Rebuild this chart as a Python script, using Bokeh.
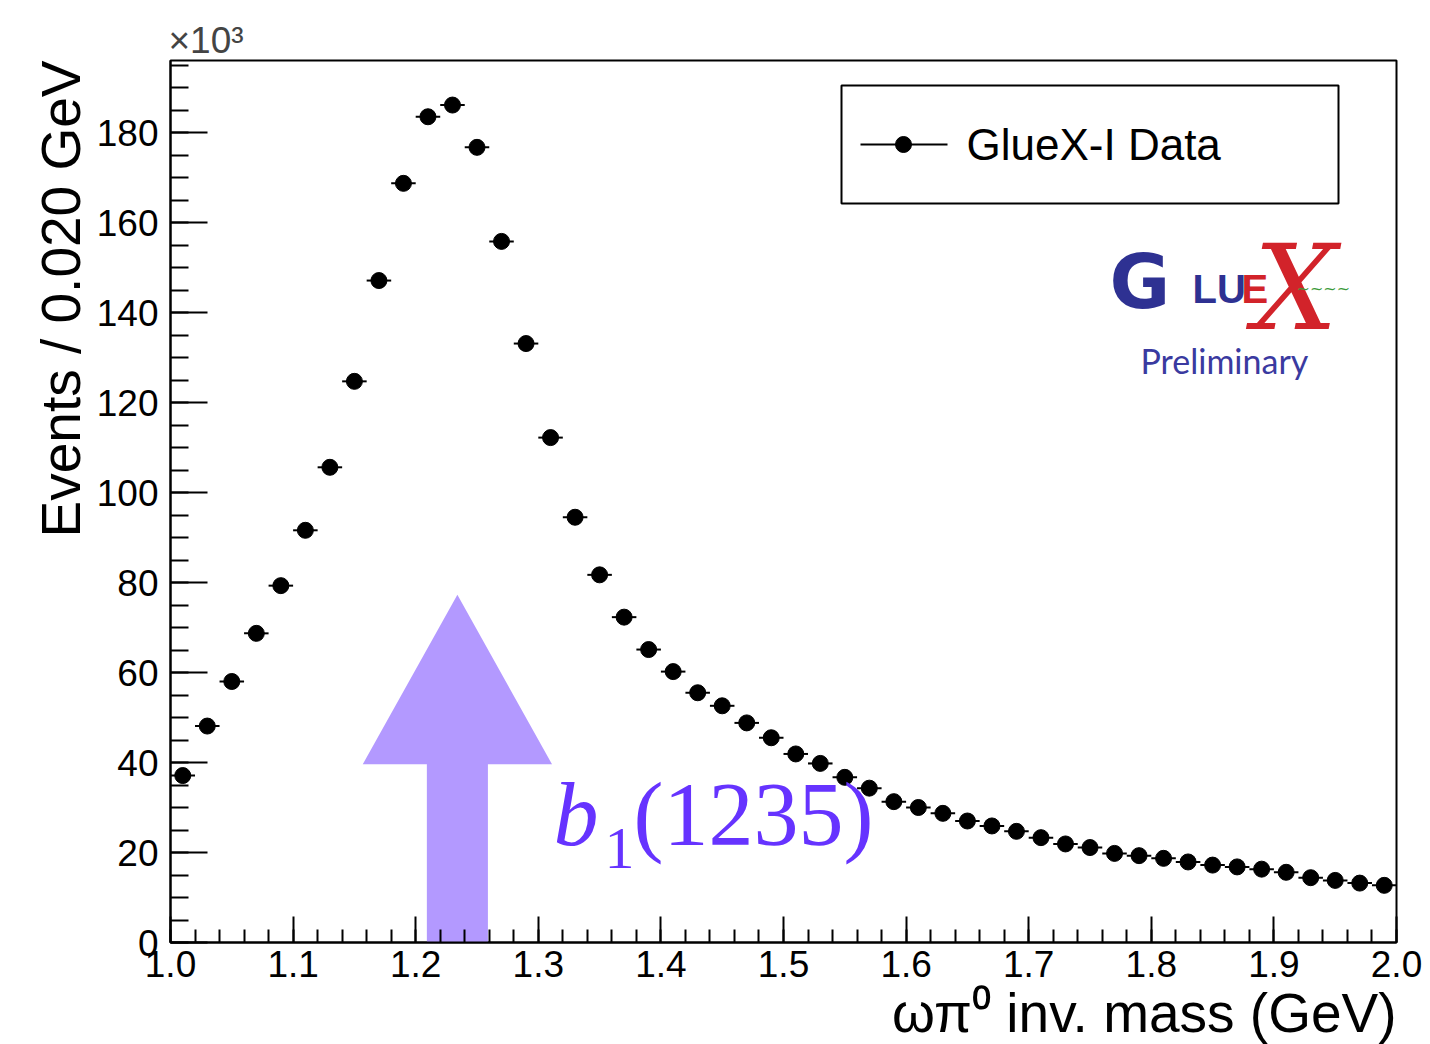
import numpy as np
from bokeh.plotting import figure
from bokeh.models import Range1d, FixedTicker, PrintfTickFormatter, Label, BoxAnnotation, Title
from bokeh.embed import file_html
from bokeh.resources import INLINE

# ---------------- data (values in units of 10^3 events per 0.020 GeV bin) ----------------
mass_centers = [1.01, 1.03, 1.05, 1.07, 1.09, 1.11, 1.13, 1.15, 1.17, 1.19,
                1.21, 1.23, 1.25, 1.27, 1.29, 1.31, 1.33, 1.35, 1.37, 1.39,
                1.41, 1.43, 1.45, 1.47, 1.49, 1.51, 1.53, 1.55, 1.57, 1.59,
                1.61, 1.63, 1.65, 1.67, 1.69, 1.71, 1.73, 1.75, 1.77, 1.79,
                1.81, 1.83, 1.85, 1.87, 1.89, 1.91, 1.93, 1.95, 1.97, 1.99]
events_k = [37.1, 48.1, 58.0, 68.7, 79.3, 91.6, 105.6, 124.7, 147.1, 168.7,
            183.5, 186.1, 176.7, 155.8, 133.1, 112.2, 94.5, 81.7, 72.3, 65.1,
            60.2, 55.5, 52.6, 48.8, 45.5, 41.9, 39.8, 36.7, 34.3, 31.3,
            30.0, 28.7, 27.0, 25.9, 24.7, 23.3, 21.9, 21.1, 19.8, 19.3,
            18.7, 17.9, 17.2, 16.8, 16.3, 15.6, 14.4, 13.8, 13.2, 12.7]
bin_half_width = 0.01

x_major_ticks = [1.0, 1.1, 1.2, 1.3, 1.4, 1.5, 1.6, 1.7, 1.8, 1.9, 2.0]
y_major_ticks = [0, 20, 40, 60, 80, 100, 120, 140, 160, 180]
legend_label = "GlueX-I Data"
x_title = "ωπ⁰ inv. mass (GeV)"
y_title = "Events / 0.020 GeV"
y_multiplier = "×10³"
resonance_mass = 1.234          # b1(1235) marker position (GeV)

# ---------------- layout ----------------
X_MIN, X_MAX = 1.0, 2.0
Y_MIN, Y_MAX = 0.0, 196.0
FRAME_L, FRAME_T, FRAME_W, FRAME_H = 170, 60, 1226, 882

def fx(px):
    return X_MIN + (px - FRAME_L) * (X_MAX - X_MIN) / FRAME_W

def fy(py):
    return Y_MIN + (FRAME_T + FRAME_H - py) * (Y_MAX - Y_MIN) / FRAME_H

SANS = "Liberation Sans"
SERIF = "Liberation Serif"

p = figure(width=1430, height=1044,
           x_range=Range1d(X_MIN, X_MAX), y_range=Range1d(Y_MIN, Y_MAX),
           output_backend="svg", toolbar_location=None, title=None,
           min_border_left=FRAME_L, min_border_right=1430 - FRAME_L - FRAME_W,
           min_border_top=FRAME_T, min_border_bottom=1044 - FRAME_T - FRAME_H)
p.background_fill_color = "white"
p.border_fill_color = "white"
p.outline_line_color = "black"
p.outline_line_width = 2
p.xgrid.visible = False
p.ygrid.visible = False

# axes (ROOT style, ticks inside)
x_minor = [round(X_MIN + 0.02 * i, 2) for i in range(51)]
y_minor = [5 * i for i in range(40)]
p.xaxis.ticker = FixedTicker(ticks=x_major_ticks, minor_ticks=x_minor)
p.yaxis.ticker = FixedTicker(ticks=y_major_ticks, minor_ticks=y_minor)
p.xaxis.formatter = PrintfTickFormatter(format="%.1f")
p.yaxis.formatter = PrintfTickFormatter(format="%d")
for ax, maj, mnr, so in ((p.xaxis, 26, 13, 8), (p.yaxis, 37, 18, 12)):
    ax.major_tick_in = maj
    ax.major_tick_out = 0
    ax.minor_tick_in = mnr
    ax.minor_tick_out = 0
    ax.axis_line_width = 2
    ax.major_tick_line_width = 2
    ax.minor_tick_line_width = 2
    ax.axis_line_color = "black"
    ax.major_tick_line_color = "black"
    ax.minor_tick_line_color = "black"
    ax.major_label_text_font = SANS
    ax.major_label_text_font_size = "37px"
    ax.major_label_text_color = "black"
    ax.major_label_standoff = so

# axis titles, aligned to the axis end (right / top) as in ROOT
p.add_layout(Title(text=x_title, align="right", text_font=SANS, text_font_size="55px",
                   text_font_style="normal", text_color="black", standoff=0), "below")
p.add_layout(Title(text=y_title, align="right", text_font=SANS, text_font_size="55px",
                   text_font_style="normal", text_color="black", standoff=4), "left")
p.add_layout(Title(text=y_multiplier, align="left", text_font=SANS, text_font_size="37px",
                   text_font_style="normal", standoff=0, offset=-2), "above")

# b1(1235) arrow
head_half = 0.0772
shaft_half = 0.0249
tip_y, head_base_y = 77.3, 39.6
arrow_x = [resonance_mass - shaft_half, resonance_mass - shaft_half, resonance_mass - head_half,
           resonance_mass, resonance_mass + head_half, resonance_mass + shaft_half,
           resonance_mass + shaft_half]
arrow_y = [Y_MIN, head_base_y, head_base_y, tip_y, head_base_y, head_base_y, Y_MIN]
p.patch(arrow_x, arrow_y, fill_color="#b399ff", line_color=None)

# data points with bin-width error bars
x_lo = [m - bin_half_width for m in mass_centers]
x_hi = [m + bin_half_width for m in mass_centers]
p.segment(x0=x_lo, x1=x_hi, y0=events_k, y1=events_k, line_color="black", line_width=2)
p.scatter(mass_centers, events_k, size=16, marker="circle", fill_color="black", line_color="black")

# legend box (ROOT TLegend look)
p.add_layout(BoxAnnotation(left=fx(841), right=fx(1338), top=fy(85), bottom=fy(203),
                           fill_alpha=0, line_color="black", line_alpha=1.0, line_width=2))
p.line([fx(860), fx(947)], [fy(144), fy(144)], line_color="black", line_width=2)
p.scatter([fx(903)], [fy(144)], size=16, marker="circle", fill_color="black", line_color="black")
p.add_layout(Label(x=fx(966), y=fy(144), text=legend_label, text_font=SANS,
                   text_font_size="44px", text_baseline="middle", text_color="black"))

# b1(1235) label (baseline positions corrected for Bokeh's alphabetic offset)
purple = "#6633ff"
p.add_layout(Label(x=fx(553), y=fy(814), text="b", text_font=SERIF, text_font_style="italic",
                   text_font_size="90px", text_color=purple, text_baseline="alphabetic"))
p.add_layout(Label(x=fx(604), y=fy(848), text="1", text_font=SERIF,
                   text_font_size="60px", text_color=purple, text_baseline="alphabetic"))
p.add_layout(Label(x=fx(633), y=fy(814), text="(1235)", text_font=SERIF,
                   text_font_size="90px", text_color=purple, text_baseline="alphabetic"))

# GlueX logo (text approximation)
logo_blue = "#2e3192"
logo_red = "#d2232a"
p.add_layout(Label(x=fx(1109), y=fy(281), text="G", text_font="DejaVu Sans", text_font_style="bold",
                   text_font_size="74px", text_color=logo_blue, text_baseline="alphabetic"))
p.add_layout(Label(x=fx(1192), y=fy(288), text="LU", text_font=SANS, text_font_style="bold",
                   text_font_size="40px", text_color=logo_blue, text_baseline="alphabetic"))
p.add_layout(Label(x=fx(1241), y=fy(288), text="E", text_font=SANS, text_font_style="bold",
                   text_font_size="40px", text_color=logo_red, text_baseline="alphabetic"))
p.add_layout(Label(x=fx(1253), y=fy(287), text="X", text_font="DejaVu Serif",
                   text_font_style="italic", text_font_size="118px", text_color=logo_red,
                   text_baseline="alphabetic"))
p.add_layout(Label(x=fx(1296), y=fy(288), text="~~~~", text_font="DejaVu Sans",
                   text_font_size="16px", text_color="#3a9a3a", text_baseline="middle"))
p.add_layout(Label(x=fx(1140), y=fy(360), text="Preliminary", text_font="Lato",
                   text_font_size="34px", text_color="#3a3aa0", text_baseline="alphabetic"))

open("out.html", "w").write(file_html(p, INLINE))
